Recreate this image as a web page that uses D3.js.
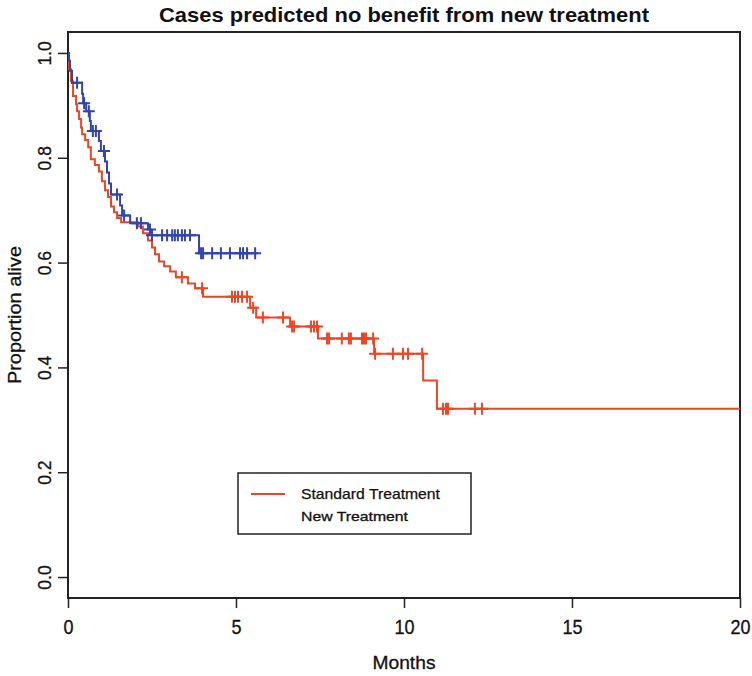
<!DOCTYPE html>
<html>
    <head>
        <script src="https://d3js.org/d3.v7.min.js"></script>
        <style>
            body { margin: 0; background: white; }
            text { font-family: "Liberation Sans", Arial, sans-serif; }
        </style>
    </head>
    <body>
        <div id="chart-container"></div>
        <script>

            // Kaplan-Meier step points (months, proportion alive)
            var stdTimes = [0, 0.03, 0.09, 0.15, 0.24, 0.27, 0.33, 0.39, 0.42, 0.51, 0.60, 0.68, 0.80, 0.92, 1.01, 1.10, 1.19, 1.28, 1.37, 1.46, 1.58,
                            2.08, 2.23, 2.38, 2.50, 2.59, 2.71, 2.86, 3.04, 3.21, 3.57, 3.78, 4.02, 5.42, 5.60, 6.61, 7.44, 9.11, 10.57, 10.98];
            var stdSurv  = [1.0, 0.969, 0.946, 0.918, 0.902, 0.889, 0.874, 0.858, 0.845, 0.834, 0.820, 0.797, 0.786, 0.774, 0.755, 0.738, 0.725, 0.707, 0.696, 0.685, 0.677,
                            0.669, 0.656, 0.642, 0.629, 0.616, 0.602, 0.593, 0.583, 0.572, 0.560, 0.551, 0.535, 0.514, 0.495, 0.478, 0.455, 0.426, 0.375, 0.321];
            var stdEnd = 20;
            var stdCensor = [3.39, 3.99, 4.88, 4.97, 5.06, 5.18, 5.33, 5.51, 5.80, 6.40, 6.67, 6.73, 7.23, 7.32, 7.41, 7.71, 7.77, 8.15, 8.36, 8.42,
                             8.75, 8.81, 8.87, 9.08, 9.14, 9.67, 9.97, 10.12, 10.54, 11.16, 11.25, 11.31, 12.11, 12.32];

            var newTimes = [0, 0.03, 0.06, 0.12, 0.42, 0.45, 0.54, 0.65, 0.68, 0.92, 0.98, 1.10, 1.16, 1.22, 1.28, 1.55, 1.61, 1.85, 2.38, 2.47, 3.90];
            var newSurv  = [1.0, 0.985, 0.966, 0.943, 0.922, 0.904, 0.889, 0.870, 0.851, 0.832, 0.813, 0.793, 0.772, 0.751, 0.730, 0.709, 0.690, 0.675, 0.663, 0.652, 0.618];
            var newEnd = 5.65;
            var newCensor = [0.27, 0.48, 0.62, 0.74, 0.83, 1.07, 1.46, 1.67, 2.05, 2.17, 2.44, 2.50, 2.80, 2.95, 3.10, 3.18, 3.27, 3.39, 3.48, 3.63,
                             3.96, 4.02, 4.29, 4.55, 4.82, 5.12, 5.21, 5.33, 5.57];

            var xTicks = [0, 5, 10, 15, 20];
            var yTicks = [0.0, 0.2, 0.4, 0.6, 0.8, 1.0];

            var red = "#ee4524", blue = "#3344aa";

            var W = 752, H = 676;
            var box = {left: 68, right: 740, top: 32, bottom: 598};

            var svg = d3.select("#chart-container")
                .append("svg")
                    .attr("width", W)
                    .attr("height", H);

            var x = d3.scaleLinear()
                .domain([0, 20])
                .range([box.left, box.right]);

            var y = d3.scaleLinear()
                .domain([-0.04, 1.04])
                .range([box.bottom, box.top]);

            // title
            svg.append("text")
                .attr("x", (box.left + box.right) / 2)
                .attr("y", 22)
                .attr("text-anchor", "middle")
                .attr("font-weight", "bold")
                .attr("font-size", 20.5)
                .attr("textLength", 490)
                .attr("lengthAdjust", "spacingAndGlyphs")
                .attr("fill", "#111")
                .text("Cases predicted no benefit from new treatment");

            // X axis
            var xAxis = svg.append("g")
                .attr("transform", "translate(0," + box.bottom + ")")
                .call(d3.axisBottom(x).tickValues(xTicks).tickFormat(d3.format("d")).tickSize(10).tickPadding(12));
            xAxis.select(".domain").remove();
            xAxis.selectAll("line").attr("stroke", "#222").attr("stroke-width", 1.5);
            xAxis.selectAll("text")
                .attr("font-size", 20)
                .attr("fill", "#111")
                .attr("stroke", "#111")
                .attr("stroke-width", 0.3)
                .attr("font-family", "Liberation Sans, Arial, sans-serif")
                .attr("transform", "scale(0.9,1)");

            svg.append("text")
                .attr("x", (box.left + box.right) / 2)
                .attr("y", 669)
                .attr("text-anchor", "middle")
                .attr("font-size", 19)
                .attr("textLength", 63)
                .attr("lengthAdjust", "spacingAndGlyphs")
                .attr("fill", "#111")
                .attr("stroke", "#111")
                .attr("stroke-width", 0.3)
                .text("Months");

            // Y axis
            var yAxis = svg.append("g")
                .attr("transform", "translate(" + box.left + ",0)")
                .call(d3.axisLeft(y).tickValues(yTicks).tickFormat(d3.format(".1f")).tickSize(10).tickPadding(8));
            yAxis.select(".domain").remove();
            yAxis.selectAll("line").attr("stroke", "#222").attr("stroke-width", 1.5);
            yAxis.selectAll("text")
                .attr("font-size", 19)
                .attr("fill", "#111")
                .attr("stroke", "#111")
                .attr("stroke-width", 0.3)
                .attr("font-family", "Liberation Sans, Arial, sans-serif")
                .attr("text-anchor", "middle")
                .attr("dy", null)
                .attr("x", 0)
                .attr("transform", "translate(-17,0) rotate(-90) scale(0.92,1)");

            svg.append("text")
                .attr("transform", "translate(21," + ((box.top + box.bottom) / 2) + ") rotate(-90)")
                .attr("text-anchor", "middle")
                .attr("font-size", 19)
                .attr("textLength", 138)
                .attr("lengthAdjust", "spacingAndGlyphs")
                .attr("fill", "#111")
                .attr("stroke", "#111")
                .attr("stroke-width", 0.3)
                .text("Proportion alive");

            // plot box
            svg.append("rect")
                .attr("x", box.left)
                .attr("y", box.top)
                .attr("width", box.right - box.left)
                .attr("height", box.bottom - box.top)
                .attr("fill", "none")
                .attr("stroke", "#222")
                .attr("stroke-width", 2);

            // curves
            function stepPoints(times, survs, end) {
                var pts = times.map(function(t, i) { return [t, survs[i]]; });
                pts.push([end, survs[survs.length - 1]]);
                return pts;
            }

            function survAt(times, survs, t) {
                var s = survs[0];
                for (var i = 0; i < times.length; i++) {
                    if (times[i] <= t) s = survs[i];
                }
                return s;
            }

            var line = d3.line()
                .x(function(d) { return x(d[0]); })
                .y(function(d) { return y(d[1]); })
                .curve(d3.curveStepAfter);

            var series = [
                {times: stdTimes, surv: stdSurv, end: stdEnd, censor: stdCensor, color: red},
                {times: newTimes, surv: newSurv, end: newEnd, censor: newCensor, color: blue}
            ];

            series.forEach(function(s) {
                svg.append("path")
                    .datum(stepPoints(s.times, s.surv, s.end))
                    .attr("fill", "none")
                    .attr("stroke", s.color)
                    .attr("stroke-width", 2)
                    .attr("d", line);

                svg.append("g")
                    .selectAll("path")
                    .data(s.censor)
                    .enter()
                    .append("path")
                        .attr("d", function(t) {
                            var cx = x(t), cy = y(survAt(s.times, s.surv, t));
                            return "M" + (cx - 6) + "," + cy + "H" + (cx + 6) +
                                   "M" + cx + "," + (cy - 6) + "V" + (cy + 6);
                        })
                        .attr("stroke", s.color)
                        .attr("stroke-width", 2)
                        .attr("fill", "none");
            });

            // legend
            svg.append("rect")
                .attr("x", 238)
                .attr("y", 473)
                .attr("width", 233)
                .attr("height", 61)
                .attr("fill", "white")
                .attr("stroke", "#222")
                .attr("stroke-width", 1.5);

            svg.append("line")
                .attr("x1", 251).attr("x2", 285)
                .attr("y1", 494).attr("y2", 494)
                .attr("stroke", red)
                .attr("stroke-width", 2);

            svg.append("text")
                .attr("x", 301)
                .attr("y", 499)
                .attr("font-size", 14.5)
                .attr("textLength", 139)
                .attr("lengthAdjust", "spacingAndGlyphs")
                .attr("fill", "#111")
                .attr("stroke", "#111")
                .attr("stroke-width", 0.25)
                .text("Standard Treatment");

            svg.append("text")
                .attr("x", 301)
                .attr("y", 521)
                .attr("font-size", 13)
                .attr("textLength", 107)
                .attr("lengthAdjust", "spacingAndGlyphs")
                .attr("fill", "#111")
                .attr("stroke", "#111")
                .attr("stroke-width", 0.3)
                .text("New Treatment");

        </script>
    </body>
</html>
